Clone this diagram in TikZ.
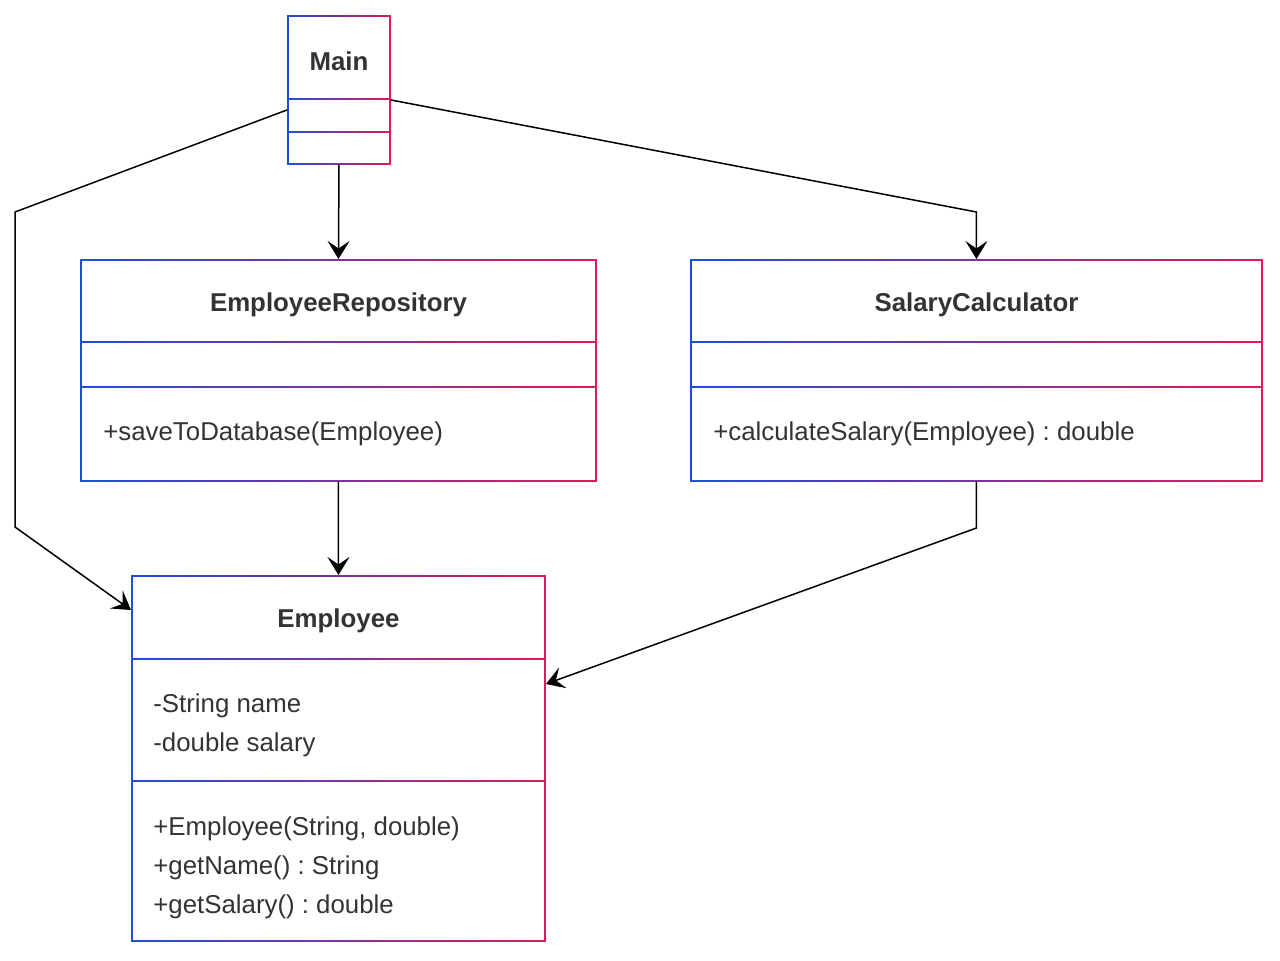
\documentclass[tikz,border=0pt]{standalone}
\usepackage{fontspec}
\setmainfont{Liberation Sans}
\usetikzlibrary{arrows.meta,positioning}

\definecolor{umlblue}{HTML}{1C4ED8}
\definecolor{umlred}{HTML}{DB1A5A}
\definecolor{umltext}{HTML}{333333}

\begin{document}
\frenchspacing
\begin{tikzpicture}[
    x=0.02cm, y=-0.02cm,
    classbox/.style={rectangle, inner sep=0pt, outer sep=0pt, anchor=north west,
                     left color=umlblue, right color=umlred,
                     path picture={\fill[white]
                       ([shift={(0.04cm,-0.04cm)}]path picture bounding box.north west) rectangle
                       ([shift={(-0.04cm,0.04cm)}]path picture bounding box.south east);}},
    sepline/.style={left color=umlblue, right color=umlred},
    title/.style={font=\fontsize{14.7}{22}\selectfont\bfseries, text=umltext, inner sep=0pt},
    member/.style={font=\fontsize{14.7}{22.1}\selectfont, text=umltext, align=left,
                   anchor=west, inner sep=0pt},
    line/.style={-{Stealth[length=0.36cm, width=0.44cm, inset=0.15cm]}, line width=0.03cm}
]
  \useasboundingbox (0,0) rectangle (1280,960);

  % class boxes
  \node[classbox, minimum width=2.08cm, minimum height=3cm] (main) at (287,15) {};
  \node[classbox, minimum width=10.34cm, minimum height=4.46cm] (repo) at (80,259) {};
  \node[classbox, minimum width=11.46cm, minimum height=4.46cm] (calc) at (690,259) {};
  \node[classbox, minimum width=8.3cm, minimum height=7.34cm] (emp) at (131,575) {};

  % compartments
  \shade[sepline] (287,98.2) rectangle (391,99.8);
  \shade[sepline] (287,131.2) rectangle (391,132.8);
  \shade[sepline] (80,341.2) rectangle (597,342.8);
  \shade[sepline] (80,386.2) rectangle (597,387.8);
  \shade[sepline] (690,341.2) rectangle (1263,342.8);
  \shade[sepline] (690,386.2) rectangle (1263,387.8);
  \shade[sepline] (131,658.2) rectangle (546,659.8);
  \shade[sepline] (131,780.2) rectangle (546,781.8);

  % texts
  \node[title] (mainTitle) at (339,61) {Main};
  \node[title] (repoTitle) at (338.5,305) {EmployeeRepository};
  \node[title] (calcTitle) at (976.5,305) {SalaryCalculator};
  \node[title] (empTitle) at (338.5,621) {Employee};
  \node[member] (repoOps) at (103,434) {+saveToDatabase(Employee)};
  \node[member] (calcOps) at (713,434) {+calculateSalary(Employee) : double};
  \node[member] (empAttrs) at (153,725.5) {-String name\\-double salary};
  \node[member] (empOps) at (153,868) {+Employee(String, double)\\+getName() : String\\+getSalary() : double};

  % dependencies
  \draw[line] ([yshift=-0.4cm]main.west) -- (15,212) -- (15,527) -- ([yshift=-0.7cm]emp.north west);
  \draw[line] (main.south) -- (repo.north);
  \draw[line] ([yshift=-0.2cm]main.east) -- (calc.north |- 0,212) -- (calc.north);
  \draw[line] (repo.south) -- (emp.north);
  \draw[line] (calc.south) -- (calc.south |- 0,528) -- ([yshift=-2.18cm]emp.north east);
\end{tikzpicture}
\end{document}
